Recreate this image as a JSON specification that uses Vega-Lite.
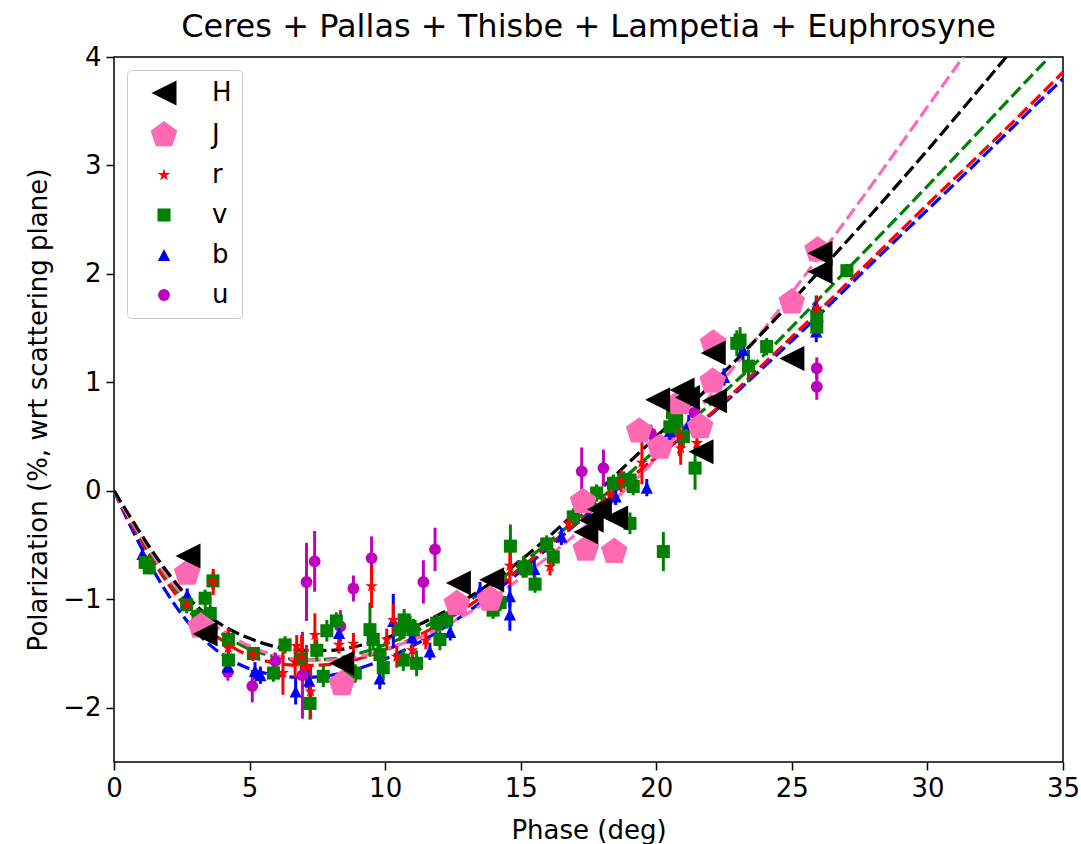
{
  "$schema": "https://vega.github.io/schema/vega-lite/v6.json",
  "width": 949,
  "height": 705,
  "autosize": {"type": "none"},
  "padding": {"left": 114, "top": 57, "right": 18, "bottom": 82},
  "background": "white",
  "config": {
    "font": "DejaVu Sans",
    "view": {"stroke": "black", "strokeWidth": 1.5},
    "axis": {"grid": false, "domain": false, "tickColor": "black", "tickSize": 8, "tickWidth": 1.5, "labelColor": "black", "labelFontSize": 26, "titleFontSize": 26, "titleFontWeight": "normal", "titleColor": "black", "labelPadding": 5, "labelFont": "DejaVu Sans", "titleFont": "DejaVu Sans", "labelFlush": false},
    "legend": {"orient": "top-left", "offset": 13, "padding": 10, "fillColor": "white", "strokeColor": "#cccccc", "cornerRadius": 4, "labelFontSize": 26, "labelFont": "DejaVu Sans", "labelColor": "black", "rowPadding": 14, "labelOffset": 35, "symbolOffset": 14, "symbolSize": 300, "symbolStrokeWidth": 0}
  },
  "title": {"text": "Ceres + Pallas + Thisbe + Lampetia + Euphrosyne", "fontSize": 32, "fontWeight": "normal", "font": "DejaVu Sans", "color": "black", "offset": 0},
  "datasets": {
    "pts": [
      {"band": "u", "phase": 4.2, "pol": -1.67, "lo": -1.75, "hi": -1.59},
      {"band": "u", "phase": 5.1, "pol": -1.8, "lo": -1.95, "hi": -1.65},
      {"band": "u", "phase": 5.95, "pol": -1.57, "lo": -1.65, "hi": -1.49},
      {"band": "u", "phase": 6.95, "pol": -1.7, "lo": -2.1, "hi": -1.3},
      {"band": "u", "phase": 7.1, "pol": -0.84, "lo": -1.2, "hi": -0.48},
      {"band": "u", "phase": 7.4, "pol": -0.65, "lo": -0.93, "hi": -0.37},
      {"band": "u", "phase": 8.35, "pol": -1.25, "lo": -1.4, "hi": -1.1},
      {"band": "u", "phase": 8.83, "pol": -0.9, "lo": -1.02, "hi": -0.78},
      {"band": "u", "phase": 9.5, "pol": -0.62, "lo": -0.82, "hi": -0.42},
      {"band": "u", "phase": 11.41, "pol": -0.84, "lo": -1.04, "hi": -0.64},
      {"band": "u", "phase": 11.84, "pol": -0.54, "lo": -0.74, "hi": -0.34},
      {"band": "u", "phase": 17.25, "pol": 0.18, "lo": -0.04, "hi": 0.4},
      {"band": "u", "phase": 18.05, "pol": 0.21, "lo": 0.04, "hi": 0.38},
      {"band": "u", "phase": 19.8, "pol": 0.53, "lo": 0.45, "hi": 0.61},
      {"band": "u", "phase": 21.4, "pol": 0.72, "lo": 0.64, "hi": 0.8},
      {"band": "u", "phase": 25.92, "pol": 1.13, "lo": 1.03, "hi": 1.23},
      {"band": "u", "phase": 25.92, "pol": 0.96, "lo": 0.84, "hi": 1.08},
      {"band": "b", "phase": 1.05, "pol": -0.58, "lo": -0.64, "hi": -0.52},
      {"band": "b", "phase": 2.7, "pol": -0.96, "lo": -1.02, "hi": -0.9},
      {"band": "b", "phase": 4.2, "pol": -1.62, "lo": -1.7, "hi": -1.54},
      {"band": "b", "phase": 5.2, "pol": -1.66, "lo": -1.74, "hi": -1.58},
      {"band": "b", "phase": 5.4, "pol": -1.7, "lo": -1.78, "hi": -1.62},
      {"band": "b", "phase": 6.7, "pol": -1.85, "lo": -1.97, "hi": -1.73},
      {"band": "b", "phase": 7.2, "pol": -1.75, "lo": -1.87, "hi": -1.63},
      {"band": "b", "phase": 8.3, "pol": -1.31, "lo": -1.41, "hi": -1.21},
      {"band": "b", "phase": 9.8, "pol": -1.73, "lo": -1.83, "hi": -1.63},
      {"band": "b", "phase": 10.3, "pol": -1.2, "lo": -1.45, "hi": -0.95},
      {"band": "b", "phase": 11.0, "pol": -1.35, "lo": -1.45, "hi": -1.25},
      {"band": "b", "phase": 11.65, "pol": -1.48, "lo": -1.56, "hi": -1.4},
      {"band": "b", "phase": 12.4, "pol": -1.3, "lo": -1.38, "hi": -1.22},
      {"band": "b", "phase": 13.5, "pol": -0.92, "lo": -1.0, "hi": -0.84},
      {"band": "b", "phase": 14.6, "pol": -1.14, "lo": -1.29, "hi": -0.99},
      {"band": "b", "phase": 14.6, "pol": -0.97, "lo": -1.07, "hi": -0.87},
      {"band": "b", "phase": 15.5, "pol": -0.72, "lo": -0.8, "hi": -0.64},
      {"band": "b", "phase": 16.5, "pol": -0.42, "lo": -0.5, "hi": -0.34},
      {"band": "b", "phase": 17.5, "pol": -0.22, "lo": -0.3, "hi": -0.14},
      {"band": "b", "phase": 18.5, "pol": -0.05, "lo": -0.13, "hi": 0.03},
      {"band": "b", "phase": 19.65, "pol": 0.03, "lo": -0.05, "hi": 0.11},
      {"band": "b", "phase": 20.5, "pol": 0.55, "lo": 0.47, "hi": 0.63},
      {"band": "b", "phase": 21.2, "pol": 0.62, "lo": 0.54, "hi": 0.7},
      {"band": "b", "phase": 22.5, "pol": 1.05, "lo": 0.97, "hi": 1.13},
      {"band": "b", "phase": 23.2, "pol": 1.3, "lo": 1.2, "hi": 1.4},
      {"band": "b", "phase": 25.9, "pol": 1.47, "lo": 1.37, "hi": 1.57},
      {"band": "b", "phase": 25.9, "pol": 1.7, "lo": 1.6, "hi": 1.8},
      {"band": "v", "phase": 1.15, "pol": -0.66, "lo": -0.72, "hi": -0.6},
      {"band": "v", "phase": 1.3, "pol": -0.71, "lo": -0.77, "hi": -0.65},
      {"band": "v", "phase": 2.68, "pol": -1.05, "lo": -1.13, "hi": -0.97},
      {"band": "v", "phase": 3.1, "pol": -1.16, "lo": -1.24, "hi": -1.08},
      {"band": "v", "phase": 3.36, "pol": -0.99, "lo": -1.07, "hi": -0.91},
      {"band": "v", "phase": 3.55, "pol": -1.13, "lo": -1.21, "hi": -1.05},
      {"band": "v", "phase": 3.65, "pol": -0.83, "lo": -0.91, "hi": -0.75},
      {"band": "v", "phase": 4.22, "pol": -1.37, "lo": -1.47, "hi": -1.27},
      {"band": "v", "phase": 4.22, "pol": -1.56, "lo": -1.68, "hi": -1.44},
      {"band": "v", "phase": 5.14, "pol": -1.5, "lo": -1.56, "hi": -1.44},
      {"band": "v", "phase": 5.88, "pol": -1.68, "lo": -1.76, "hi": -1.6},
      {"band": "v", "phase": 6.31, "pol": -1.42, "lo": -1.5, "hi": -1.34},
      {"band": "v", "phase": 6.9, "pol": -1.55, "lo": -1.65, "hi": -1.45},
      {"band": "v", "phase": 7.23, "pol": -1.96, "lo": -2.11, "hi": -1.81},
      {"band": "v", "phase": 7.48, "pol": -1.47, "lo": -1.57, "hi": -1.37},
      {"band": "v", "phase": 7.72, "pol": -1.71, "lo": -1.81, "hi": -1.61},
      {"band": "v", "phase": 7.85, "pol": -1.29, "lo": -1.39, "hi": -1.19},
      {"band": "v", "phase": 8.2, "pol": -1.2, "lo": -1.28, "hi": -1.12},
      {"band": "v", "phase": 8.7, "pol": -1.71, "lo": -1.81, "hi": -1.61},
      {"band": "v", "phase": 8.9, "pol": -1.68, "lo": -1.76, "hi": -1.6},
      {"band": "v", "phase": 9.44, "pol": -1.28, "lo": -1.53, "hi": -1.03},
      {"band": "v", "phase": 9.56, "pol": -1.37, "lo": -1.47, "hi": -1.27},
      {"band": "v", "phase": 9.81, "pol": -1.51, "lo": -1.61, "hi": -1.41},
      {"band": "v", "phase": 9.93, "pol": -1.63, "lo": -1.75, "hi": -1.51},
      {"band": "v", "phase": 10.55, "pol": -1.28, "lo": -1.38, "hi": -1.18},
      {"band": "v", "phase": 10.7, "pol": -1.19, "lo": -1.29, "hi": -1.09},
      {"band": "v", "phase": 10.67, "pol": -1.56, "lo": -1.66, "hi": -1.46},
      {"band": "v", "phase": 10.92, "pol": -1.25, "lo": -1.35, "hi": -1.15},
      {"band": "v", "phase": 11.04, "pol": -1.28, "lo": -1.38, "hi": -1.18},
      {"band": "v", "phase": 11.16, "pol": -1.59, "lo": -1.71, "hi": -1.47},
      {"band": "v", "phase": 11.9, "pol": -1.22, "lo": -1.3, "hi": -1.14},
      {"band": "v", "phase": 12.02, "pol": -1.37, "lo": -1.47, "hi": -1.27},
      {"band": "v", "phase": 12.27, "pol": -1.19, "lo": -1.27, "hi": -1.11},
      {"band": "v", "phase": 13.98, "pol": -1.1, "lo": -1.18, "hi": -1.02},
      {"band": "v", "phase": 14.24, "pol": -1.03, "lo": -1.11, "hi": -0.95},
      {"band": "v", "phase": 14.62, "pol": -0.51, "lo": -0.71, "hi": -0.31},
      {"band": "v", "phase": 15.1, "pol": -0.7, "lo": -0.8, "hi": -0.6},
      {"band": "v", "phase": 15.2, "pol": -0.72, "lo": -0.8, "hi": -0.64},
      {"band": "v", "phase": 15.53, "pol": -0.86, "lo": -0.94, "hi": -0.78},
      {"band": "v", "phase": 15.96, "pol": -0.49, "lo": -0.57, "hi": -0.41},
      {"band": "v", "phase": 16.2, "pol": -0.61, "lo": -0.69, "hi": -0.53},
      {"band": "v", "phase": 16.94, "pol": -0.24, "lo": -0.32, "hi": -0.16},
      {"band": "v", "phase": 17.5, "pol": -0.12, "lo": -0.2, "hi": -0.04},
      {"band": "v", "phase": 17.8, "pol": -0.02, "lo": -0.1, "hi": 0.06},
      {"band": "v", "phase": 18.42, "pol": 0.07, "lo": -0.01, "hi": 0.15},
      {"band": "v", "phase": 18.8, "pol": 0.1, "lo": 0.02, "hi": 0.18},
      {"band": "v", "phase": 19.03, "pol": 0.1, "lo": 0.02, "hi": 0.18},
      {"band": "v", "phase": 19.15, "pol": 0.04, "lo": -0.04, "hi": 0.12},
      {"band": "v", "phase": 19.03, "pol": -0.3, "lo": -0.4, "hi": -0.2},
      {"band": "v", "phase": 20.26, "pol": -0.56, "lo": -0.74, "hi": -0.38},
      {"band": "v", "phase": 20.5, "pol": 0.59, "lo": 0.49, "hi": 0.69},
      {"band": "v", "phase": 20.6, "pol": 0.72, "lo": 0.62, "hi": 0.82},
      {"band": "v", "phase": 20.75, "pol": 0.65, "lo": 0.55, "hi": 0.75},
      {"band": "v", "phase": 21.0, "pol": 0.5, "lo": 0.4, "hi": 0.6},
      {"band": "v", "phase": 21.43, "pol": 0.21, "lo": 0.01, "hi": 0.41},
      {"band": "v", "phase": 22.97, "pol": 1.36, "lo": 1.24, "hi": 1.48},
      {"band": "v", "phase": 23.09, "pol": 1.39, "lo": 1.27, "hi": 1.51},
      {"band": "v", "phase": 23.4, "pol": 1.15, "lo": 1.0, "hi": 1.3},
      {"band": "v", "phase": 24.07, "pol": 1.33, "lo": 1.25, "hi": 1.41},
      {"band": "v", "phase": 25.92, "pol": 1.61, "lo": 1.51, "hi": 1.71},
      {"band": "v", "phase": 25.92, "pol": 1.51, "lo": 1.41, "hi": 1.61},
      {"band": "v", "phase": 27.03, "pol": 2.03, "lo": 1.97, "hi": 2.09},
      {"band": "r", "phase": 2.68, "pol": -1.05, "lo": -1.11, "hi": -0.99},
      {"band": "r", "phase": 3.66, "pol": -0.84, "lo": -0.96, "hi": -0.72},
      {"band": "r", "phase": 4.21, "pol": -1.45, "lo": -1.63, "hi": -1.27},
      {"band": "r", "phase": 5.13, "pol": -1.51, "lo": -1.57, "hi": -1.45},
      {"band": "r", "phase": 6.23, "pol": -1.68, "lo": -1.88, "hi": -1.48},
      {"band": "r", "phase": 6.68, "pol": -1.58, "lo": -1.73, "hi": -1.43},
      {"band": "r", "phase": 6.74, "pol": -1.43, "lo": -1.53, "hi": -1.33},
      {"band": "r", "phase": 6.92, "pol": -1.53, "lo": -1.73, "hi": -1.33},
      {"band": "r", "phase": 7.1, "pol": -1.62, "lo": -1.82, "hi": -1.42},
      {"band": "r", "phase": 7.25, "pol": -1.85, "lo": -2.1, "hi": -1.6},
      {"band": "r", "phase": 7.41, "pol": -1.33, "lo": -1.53, "hi": -1.13},
      {"band": "r", "phase": 8.3, "pol": -1.42, "lo": -1.5, "hi": -1.34},
      {"band": "r", "phase": 8.83, "pol": -1.41, "lo": -1.51, "hi": -1.31},
      {"band": "r", "phase": 9.5, "pol": -0.88, "lo": -1.08, "hi": -0.68},
      {"band": "r", "phase": 10.06, "pol": -1.37, "lo": -1.47, "hi": -1.27},
      {"band": "r", "phase": 10.3, "pol": -1.19, "lo": -1.34, "hi": -1.04},
      {"band": "r", "phase": 10.43, "pol": -1.53, "lo": -1.63, "hi": -1.43},
      {"band": "r", "phase": 11.0, "pol": -1.47, "lo": -1.55, "hi": -1.39},
      {"band": "r", "phase": 11.5, "pol": -1.38, "lo": -1.46, "hi": -1.3},
      {"band": "r", "phase": 14.6, "pol": -0.69, "lo": -0.87, "hi": -0.51},
      {"band": "r", "phase": 16.08, "pol": -0.7, "lo": -0.78, "hi": -0.62},
      {"band": "r", "phase": 16.76, "pol": -0.3, "lo": -0.38, "hi": -0.22},
      {"band": "r", "phase": 18.3, "pol": -0.04, "lo": -0.12, "hi": 0.04},
      {"band": "r", "phase": 18.7, "pol": 0.09, "lo": -0.01, "hi": 0.19},
      {"band": "r", "phase": 19.47, "pol": 0.26, "lo": 0.06, "hi": 0.46},
      {"band": "r", "phase": 20.85, "pol": 0.5, "lo": 0.32, "hi": 0.68},
      {"band": "r", "phase": 20.9, "pol": 0.39, "lo": 0.24, "hi": 0.54},
      {"band": "r", "phase": 21.5, "pol": 0.44, "lo": 0.34, "hi": 0.54},
      {"band": "r", "phase": 25.92, "pol": 1.68, "lo": 1.56, "hi": 1.8},
      {"band": "J", "phase": 2.7, "pol": -0.76},
      {"band": "J", "phase": 3.2, "pol": -1.25},
      {"band": "J", "phase": 8.4, "pol": -1.78},
      {"band": "J", "phase": 12.65, "pol": -1.04},
      {"band": "J", "phase": 13.87, "pol": -1.0},
      {"band": "J", "phase": 17.3, "pol": -0.1},
      {"band": "J", "phase": 17.4, "pol": -0.54},
      {"band": "J", "phase": 18.45, "pol": -0.56},
      {"band": "J", "phase": 19.37, "pol": 0.55},
      {"band": "J", "phase": 20.14, "pol": 0.4},
      {"band": "J", "phase": 20.85, "pol": 0.81},
      {"band": "J", "phase": 21.62, "pol": 0.59},
      {"band": "J", "phase": 22.08, "pol": 1.01},
      {"band": "J", "phase": 22.1, "pol": 1.36},
      {"band": "J", "phase": 25.0, "pol": 1.74},
      {"band": "J", "phase": 25.95, "pol": 2.22},
      {"band": "H", "phase": 2.73, "pol": -0.6},
      {"band": "H", "phase": 3.36, "pol": -1.32},
      {"band": "H", "phase": 8.4, "pol": -1.59},
      {"band": "H", "phase": 12.7, "pol": -0.85},
      {"band": "H", "phase": 13.93, "pol": -0.82},
      {"band": "H", "phase": 17.4, "pol": -0.38},
      {"band": "H", "phase": 17.6, "pol": -0.27},
      {"band": "H", "phase": 17.9, "pol": -0.17},
      {"band": "H", "phase": 18.5, "pol": -0.25},
      {"band": "H", "phase": 20.05, "pol": 0.84},
      {"band": "H", "phase": 20.95, "pol": 0.93},
      {"band": "H", "phase": 21.15, "pol": 0.86},
      {"band": "H", "phase": 22.15, "pol": 0.83},
      {"band": "H", "phase": 21.65, "pol": 0.36},
      {"band": "H", "phase": 22.1, "pol": 1.27},
      {"band": "H", "phase": 25.0, "pol": 1.22},
      {"band": "H", "phase": 26.04, "pol": 2.19},
      {"band": "H", "phase": 26.04, "pol": 2.02}
    ],
    "fit": [
      {"curve": "b", "phase": 0, "pol": 0}, {"curve": "b", "phase": 0.5, "pol": -0.27}, {"curve": "b", "phase": 1, "pol": -0.52}, {"curve": "b", "phase": 2, "pol": -0.96}, {"curve": "b", "phase": 3, "pol": -1.29}, {"curve": "b", "phase": 4, "pol": -1.51}, {"curve": "b", "phase": 5, "pol": -1.64}, {"curve": "b", "phase": 6, "pol": -1.7}, {"curve": "b", "phase": 7, "pol": -1.72}, {"curve": "b", "phase": 8, "pol": -1.7}, {"curve": "b", "phase": 9, "pol": -1.64}, {"curve": "b", "phase": 10, "pol": -1.55}, {"curve": "b", "phase": 12, "pol": -1.29}, {"curve": "b", "phase": 14, "pol": -0.94}, {"curve": "b", "phase": 16, "pol": -0.53}, {"curve": "b", "phase": 18, "pol": -0.1}, {"curve": "b", "phase": 20, "pol": 0.31}, {"curve": "b", "phase": 22, "pol": 0.7}, {"curve": "b", "phase": 24, "pol": 1.15}, {"curve": "b", "phase": 26, "pol": 1.62}, {"curve": "b", "phase": 28, "pol": 2.11}, {"curve": "b", "phase": 30, "pol": 2.59}, {"curve": "b", "phase": 32, "pol": 3.07}, {"curve": "b", "phase": 34, "pol": 3.56}, {"curve": "b", "phase": 35, "pol": 3.8},
      {"curve": "r", "phase": 0, "pol": 0}, {"curve": "r", "phase": 0.5, "pol": -0.24}, {"curve": "r", "phase": 1, "pol": -0.46}, {"curve": "r", "phase": 2, "pol": -0.86}, {"curve": "r", "phase": 3, "pol": -1.17}, {"curve": "r", "phase": 4, "pol": -1.38}, {"curve": "r", "phase": 5, "pol": -1.52}, {"curve": "r", "phase": 6, "pol": -1.59}, {"curve": "r", "phase": 7, "pol": -1.61}, {"curve": "r", "phase": 8, "pol": -1.6}, {"curve": "r", "phase": 9, "pol": -1.55}, {"curve": "r", "phase": 10, "pol": -1.47}, {"curve": "r", "phase": 12, "pol": -1.23}, {"curve": "r", "phase": 14, "pol": -0.9}, {"curve": "r", "phase": 16, "pol": -0.51}, {"curve": "r", "phase": 18, "pol": -0.1}, {"curve": "r", "phase": 20, "pol": 0.31}, {"curve": "r", "phase": 22, "pol": 0.71}, {"curve": "r", "phase": 24, "pol": 1.18}, {"curve": "r", "phase": 26, "pol": 1.66}, {"curve": "r", "phase": 28, "pol": 2.15}, {"curve": "r", "phase": 30, "pol": 2.64}, {"curve": "r", "phase": 32, "pol": 3.12}, {"curve": "r", "phase": 34, "pol": 3.61}, {"curve": "r", "phase": 35, "pol": 3.86},
      {"curve": "v", "phase": 0, "pol": 0}, {"curve": "v", "phase": 0.5, "pol": -0.22}, {"curve": "v", "phase": 1, "pol": -0.43}, {"curve": "v", "phase": 2, "pol": -0.82}, {"curve": "v", "phase": 3, "pol": -1.11}, {"curve": "v", "phase": 4, "pol": -1.32}, {"curve": "v", "phase": 5, "pol": -1.46}, {"curve": "v", "phase": 6, "pol": -1.53}, {"curve": "v", "phase": 7, "pol": -1.56}, {"curve": "v", "phase": 8, "pol": -1.55}, {"curve": "v", "phase": 9, "pol": -1.5}, {"curve": "v", "phase": 10, "pol": -1.42}, {"curve": "v", "phase": 12, "pol": -1.18}, {"curve": "v", "phase": 14, "pol": -0.86}, {"curve": "v", "phase": 16, "pol": -0.48}, {"curve": "v", "phase": 18, "pol": -0.06}, {"curve": "v", "phase": 20, "pol": 0.38}, {"curve": "v", "phase": 22, "pol": 0.8}, {"curve": "v", "phase": 24, "pol": 1.26}, {"curve": "v", "phase": 26, "pol": 1.77}, {"curve": "v", "phase": 28, "pol": 2.29}, {"curve": "v", "phase": 30, "pol": 2.81}, {"curve": "v", "phase": 32, "pol": 3.34}, {"curve": "v", "phase": 34, "pol": 3.87}, {"curve": "v", "phase": 35, "pol": 4.13},
      {"curve": "J", "phase": 0, "pol": 0}, {"curve": "J", "phase": 0.5, "pol": -0.22}, {"curve": "J", "phase": 1, "pol": -0.42}, {"curve": "J", "phase": 2, "pol": -0.8}, {"curve": "J", "phase": 3, "pol": -1.08}, {"curve": "J", "phase": 4, "pol": -1.29}, {"curve": "J", "phase": 5, "pol": -1.43}, {"curve": "J", "phase": 6, "pol": -1.52}, {"curve": "J", "phase": 7, "pol": -1.56}, {"curve": "J", "phase": 8, "pol": -1.56}, {"curve": "J", "phase": 9, "pol": -1.53}, {"curve": "J", "phase": 10, "pol": -1.46}, {"curve": "J", "phase": 12, "pol": -1.27}, {"curve": "J", "phase": 14, "pol": -0.98}, {"curve": "J", "phase": 16, "pol": -0.61}, {"curve": "J", "phase": 18, "pol": -0.19}, {"curve": "J", "phase": 20, "pol": 0.3}, {"curve": "J", "phase": 22, "pol": 0.88}, {"curve": "J", "phase": 24, "pol": 1.5}, {"curve": "J", "phase": 26, "pol": 2.16}, {"curve": "J", "phase": 28, "pol": 2.84}, {"curve": "J", "phase": 30, "pol": 3.54}, {"curve": "J", "phase": 32, "pol": 4.24}, {"curve": "J", "phase": 34, "pol": 4.95}, {"curve": "J", "phase": 35, "pol": 5.3},
      {"curve": "H", "phase": 0, "pol": 0}, {"curve": "H", "phase": 0.5, "pol": -0.2}, {"curve": "H", "phase": 1, "pol": -0.4}, {"curve": "H", "phase": 2, "pol": -0.76}, {"curve": "H", "phase": 3, "pol": -1.05}, {"curve": "H", "phase": 4, "pol": -1.24}, {"curve": "H", "phase": 5, "pol": -1.36}, {"curve": "H", "phase": 6, "pol": -1.44}, {"curve": "H", "phase": 7, "pol": -1.47}, {"curve": "H", "phase": 8, "pol": -1.47}, {"curve": "H", "phase": 9, "pol": -1.43}, {"curve": "H", "phase": 10, "pol": -1.36}, {"curve": "H", "phase": 12, "pol": -1.14}, {"curve": "H", "phase": 14, "pol": -0.83}, {"curve": "H", "phase": 16, "pol": -0.43}, {"curve": "H", "phase": 18, "pol": 0.03}, {"curve": "H", "phase": 20, "pol": 0.5}, {"curve": "H", "phase": 22, "pol": 0.97}, {"curve": "H", "phase": 24, "pol": 1.48}, {"curve": "H", "phase": 26, "pol": 2.02}, {"curve": "H", "phase": 28, "pol": 2.57}, {"curve": "H", "phase": 30, "pol": 3.14}, {"curve": "H", "phase": 32, "pol": 3.73}, {"curve": "H", "phase": 34, "pol": 4.33}, {"curve": "H", "phase": 35, "pol": 4.63}
    ]
  },
  "layer": [
    {
      "mark": {"type": "rule", "strokeDash": [3, 7], "strokeWidth": 3, "color": "black"},
      "encoding": {"y": {"datum": 0, "type": "quantitative", "scale": {"domain": [-2.5, 4], "nice": false, "zero": false}}}
    },
    {
      "data": {"name": "fit"},
      "encoding": {
        "x": {"field": "phase", "type": "quantitative", "title": "Phase (deg)"},
        "y": {"field": "pol", "type": "quantitative", "title": "Polarization (%, wrt scattering plane)"}
      },
      "layer": [
        {"transform": [{"filter": "datum.curve === 'b'"}], "mark": {"type": "line", "strokeDash": [13, 5], "strokeWidth": 3.2, "clip": true, "interpolate": "monotone", "color": "blue"}},
        {"transform": [{"filter": "datum.curve === 'r'"}], "mark": {"type": "line", "strokeDash": [13, 5], "strokeWidth": 3.2, "clip": true, "interpolate": "monotone", "color": "red"}},
        {"transform": [{"filter": "datum.curve === 'v'"}], "mark": {"type": "line", "strokeDash": [13, 5], "strokeWidth": 3.2, "clip": true, "interpolate": "monotone", "color": "green"}},
        {"transform": [{"filter": "datum.curve === 'J'"}], "mark": {"type": "line", "strokeDash": [13, 5], "strokeWidth": 3.2, "clip": true, "interpolate": "monotone", "color": "#ff69b4"}},
        {"transform": [{"filter": "datum.curve === 'H'"}], "mark": {"type": "line", "strokeDash": [13, 5], "strokeWidth": 3.2, "clip": true, "interpolate": "monotone", "color": "black"}}
      ]
    },
    {
      "data": {"name": "pts"},
      "encoding": {
        "x": {"field": "phase", "type": "quantitative", "title": "Phase (deg)", "scale": {"domain": [0, 35], "nice": false, "zero": false}, "axis": {"values": [0, 5, 10, 15, 20, 25, 30, 35], "titlePadding": 16}},
        "color": {"field": "band", "type": "nominal", "title": "", "scale": {"domain": ["H", "J", "r", "v", "b", "u"], "range": ["black", "#ff69b4", "red", "green", "blue", "#bf00bf"]},
          "legend": {"encode": {"symbols": {"update": {"size": {"signal": "datum.value === 'H' ? 625 : datum.value === 'J' ? 790 : datum.value === 'b' ? 150 : datum.value === 'u' ? 140 : 170"}}}}}}
      },
      "layer": [
        {
          "mark": {"type": "rule", "strokeWidth": 3, "clip": true},
          "encoding": {
            "y": {"field": "lo", "type": "quantitative", "title": "Polarization (%, wrt scattering plane)"},
            "y2": {"field": "hi"}
          }
        },
        {
          "encoding": {
            "y": {"field": "pol", "type": "quantitative", "title": "Polarization (%, wrt scattering plane)", "axis": {"values": [-2, -1, 0, 1, 2, 3, 4], "format": "d", "titlePadding": 11}},
            "shape": {"field": "band", "type": "nominal", "title": "", "scale": {"domain": ["H", "J", "r", "v", "b", "u"], "range": ["M-1,0L1,-1L1,1Z", "M0,-1L0.951,-0.309L0.588,0.809L-0.588,0.809L-0.951,-0.309Z", "M0,-1L0.225,-0.309L0.951,-0.309L0.363,0.118L0.588,0.809L0,0.382L-0.588,0.809L-0.363,0.118L-0.951,-0.309L-0.225,-0.309Z", "square", "M0,-1L1,1L-1,1Z", "circle"]}}
          },
          "layer": [
            {"transform": [{"filter": "datum.band === 'u'"}], "mark": {"type": "point", "filled": true, "opacity": 1, "strokeWidth": 0, "clip": true, "size": 140}},
            {"transform": [{"filter": "datum.band === 'b'"}], "mark": {"type": "point", "filled": true, "opacity": 1, "strokeWidth": 0, "clip": true, "size": 150}},
            {"transform": [{"filter": "datum.band === 'v'"}], "mark": {"type": "point", "filled": true, "opacity": 1, "strokeWidth": 0, "clip": true, "size": 170}},
            {"transform": [{"filter": "datum.band === 'r'"}], "mark": {"type": "point", "filled": true, "opacity": 1, "strokeWidth": 0, "clip": true, "size": 170}},
            {"transform": [{"filter": "datum.band === 'J'"}], "mark": {"type": "point", "filled": true, "opacity": 1, "strokeWidth": 0, "clip": true, "size": 790}},
            {"transform": [{"filter": "datum.band === 'H'"}], "mark": {"type": "point", "filled": true, "opacity": 1, "strokeWidth": 0, "clip": true, "size": 625}}
          ]
        }
      ]
    }
  ]
}
